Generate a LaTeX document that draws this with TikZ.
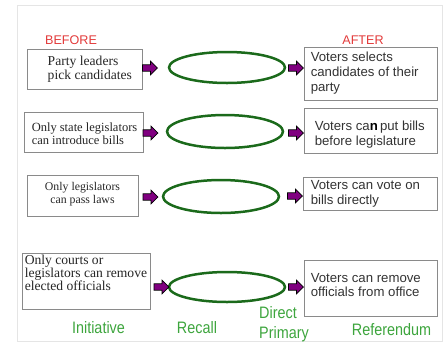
\documentclass[tikz,border=0pt]{standalone}
\usepackage{fontspec}
\setmainfont{Liberation Serif}
\newfontfamily\arialf{Liberation Sans}
\usetikzlibrary{shapes.geometric}
\definecolor{redlbl}{HTML}{E23A3A}
\definecolor{greenlbl}{HTML}{3DA53D}
\definecolor{ellgreen}{HTML}{1B6A1B}
\definecolor{arrpurple}{HTML}{800080}
\definecolor{boxgray}{HTML}{8A8A8A}
\tikzset{
  box/.style={draw=boxgray, line width=0.9pt, rectangle, inner sep=0pt},
  oval/.style={draw=ellgreen, line width=2.5pt, ellipse, inner sep=0pt},
  ltext/.style={inner sep=0pt, align=left, text=black!85},
  ctext/.style={inner sep=0pt, align=center, text=black!85},
  rtext/.style={inner sep=0pt, align=left, text=black!80, font=\arialf\fontsize{13.2}{15}\selectfont},
  toplbl/.style={inner sep=0pt, text=redlbl, font=\arialf\fontsize{12.6}{14}\selectfont},
  botlbl/.style={inner sep=0pt, text=greenlbl, transform shape, yscale=1.15, font=\arialf\fontsize{14.4}{17}\selectfont},
  barrow/.pic={\draw[fill=arrpurple, draw=black, line width=0.7pt, line join=miter]
     (0,-3.2) -- (8,-3.2) -- (8,-6.8) -- (15,0) -- (8,6.8) -- (8,3.2) -- (0,3.2) -- cycle;}
}
\begin{document}
\begin{tikzpicture}[x=1pt,y=-1pt]
\useasboundingbox (0,0) rectangle (448,346);
\draw[black!10, line width=0.8pt] (17,5) rectangle (442,341);

% headers
\node[toplbl] (before) at (71,40) {BEFORE};
\node[toplbl] (after) at (363,40) {AFTER};

% left boxes
\node[box, minimum width=115pt, minimum height=40pt] (b1) at (84.5,69) {};
\node[ltext, anchor=west, font=\fontsize{13.6}{14}\selectfont] (t1) at ([xshift=21pt]b1.west) {Party leaders\\pick candidates};

\node[box, minimum width=119pt, minimum height=40pt] (b2) at (83.5,132) {};
\node[ltext, anchor=west, font=\fontsize{12.5}{13}\selectfont] (t2) at ([xshift=8pt,yshift=-2pt]b2.west) {Only state legislators\\can introduce bills};

\node[box, minimum width=111pt, minimum height=41pt] (b3) at (82.5,195.5) {};
\node[ctext, font=\fontsize{11.8}{13}\selectfont] (t3) at ([yshift=1pt]b3.center) {Only legislators\\can pass laws};

\node[box, minimum width=128pt, minimum height=56pt] (b4) at (86,281) {};
\node[ltext, anchor=west, font=\fontsize{13.6}{13}\selectfont] (t4) at ([xshift=3pt,yshift=8pt]b4.west) {Only courts or\\legislators can remove\\elected officials};

% ellipses
\node[oval, minimum width=116pt, minimum height=31pt] (e1) at (227,67.5) {};
\node[oval, minimum width=116pt, minimum height=33pt] (e2) at (225,131.5) {};
\node[oval, minimum width=116pt, minimum height=33pt] (e3) at (221,196.5) {};
\node[oval, minimum width=116pt, minimum height=30pt] (e4) at (227,287) {};

% right boxes
\node[box, minimum width=133pt, minimum height=53pt] (r1) at (370.5,73.5) {};
\node[rtext, anchor=west] (s1) at ([xshift=7pt]r1.west) {Voters selects\\candidates of their\\party};

\node[box, minimum width=133pt, minimum height=45pt] (r2) at (370.5,130.5) {};
\node[rtext, anchor=west] (s2) at ([xshift=11pt,yshift=-4pt]r2.west) {Voters ca{\bfseries\color{black}n}\,put bills\\before legislature};

\node[box, minimum width=134pt, minimum height=33pt] (r3) at (370,193.5) {};
\node[rtext, anchor=west] (s3) at ([xshift=8pt]r3.west) {Voters can vote on\\bills directly};

\node[box, minimum width=133pt, minimum height=56pt] (r4) at (370.5,288) {};
\node[rtext, anchor=west, font=\arialf\fontsize{13.2}{14}\selectfont] (s4) at ([xshift=7pt,yshift=3pt]r4.west) {Voters can remove\\officials from office};

% block arrows
\pic at (142.5,68) {barrow};
\pic at (143,133) {barrow};
\pic at (143,197) {barrow};
\pic at (154,287) {barrow};
\pic at (288.5,68) {barrow};
\pic at (288.5,133) {barrow};
\pic at (287.5,196) {barrow};
\pic at (288.5,287) {barrow};

% bottom labels
\node[botlbl] (init) at (98.5,328) {Initiative};
\node[botlbl] (recall) at (197,328) {Recall};
\node[botlbl, anchor=west, align=left] (dp) at (259,324) {Direct\\Primary};
\node[botlbl] (ref) at (391.5,330) {Referendum};
\end{tikzpicture}
\end{document}
